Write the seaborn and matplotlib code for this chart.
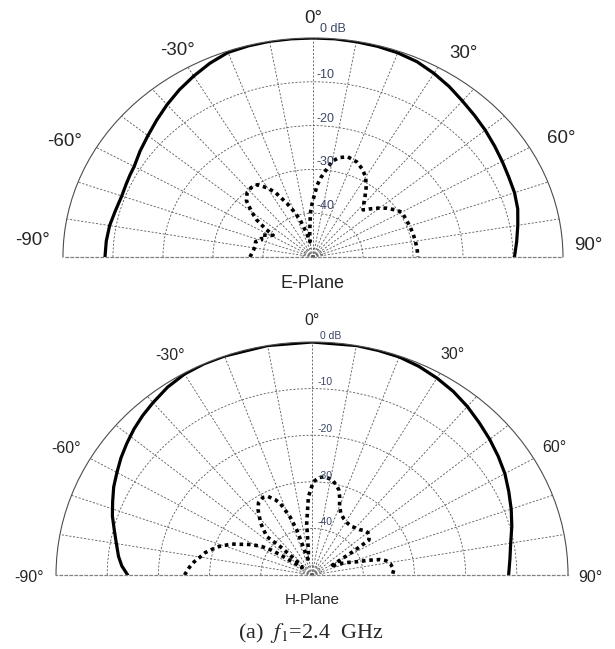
import numpy as np
import pandas as pd
import seaborn as sns
import matplotlib
matplotlib.use("Agg")
import matplotlib.pyplot as plt

# E-plane, co-pol (solid) : angle in degrees, level in dB
e_co_deg = [-90, -85, -80, -75, -70, -66, -63, -60, -55, -50, -45, -40, -35, -30, -25,
            -20, -15, -10, -5, 0, 5, 10, 15, 20, 25, 30, 35, 40, 45, 50, 55, 60, 65,
            70, 75, 80, 85, 90]
e_co_db = [-8.4, -8.5, -8.7, -9.1, -9.3, -9.1, -8.9, -8.7, -7.8, -6.9, -5.8, -4.6, -3.4,
           -2.3, -1.2, -0.3, -0.1, 0.0, 0.0, 0.0, 0.0, -0.1, -0.2, -0.4, -0.8, -1.6,
           -2.5, -3.5, -4.3, -5.0, -5.7, -6.3, -6.8, -7.1, -7.6, -8.4, -9.1, -9.7]

# E-plane, cross-pol (dotted)
e_x_deg = [-90, -84, -78, -73, -69, -64, -60, -58, -56, -53, -50, -46, -42, -38, -34,
           -30, -27, -23, -20, -17, -13, -10, -7.5, -5, -3, -1, 1, 3, 5, 7, 10, 13, 17,
           22, 26, 30, 34, 37, 40, 43, 46, 50, 53, 57, 60, 65, 70, 75, 80, 85, 90]
e_x_db = [-37.4, -37.9, -38.2, -38.0, -39.0, -38.5, -40.2, -40.6, -38.6, -35.9, -34.0,
          -31.5, -30.3, -29.9, -30.1, -31.8, -33.5, -36.7, -39.0, -41.0, -44.5, -46.5,
          -45.0, -43.0, -40.0, -38.0, -36.0, -33.5, -31.8, -30.4, -27.8, -26.7, -26.1,
          -26.6, -27.6, -28.9, -31.0, -32.7, -34.2, -35.3, -34.2, -32.6, -31.5, -30.3,
          -29.5, -29.5, -29.4, -29.3, -29.2, -29.1, -29.0]

# H-plane, co-pol (solid)
h_co_deg = [-90, -87, -84, -80, -76, -72, -68, -64, -60, -56, -52, -48, -44, -40, -35,
            -30, -25, -20, -10, 0, 10, 15, 20, 25, 30, 35, 40, 45, 50, 55, 60, 65, 70,
            75, 80, 85, 90]
h_co_db = [-14.0, -12.8, -12.0, -11.2, -10.2, -9.0, -8.0, -6.9, -6.0, -5.0, -4.1, -3.2,
           -2.4, -1.7, -0.8, -0.2, 0.0, 0.0, 0.0, 0.0, 0.0, -0.1, -0.2, -0.6, -1.2,
           -1.9, -2.8, -3.8, -4.7, -5.6, -6.5, -7.6, -8.6, -9.6, -10.6, -11.2, -11.6]

# H-plane, cross-pol (dotted)
h_x_deg = [-90, -86, -83, -80, -77, -74, -71, -67, -65, -61, -58, -56, -55, -54, -50,
           -45, -45.5, -47, -42, -37, -34, -30, -27, -24, -22, -19, -17, -16, -13, -10,
           -7.6, -5.4, -2.4, 0.7, 4, 7, 11, 14, 16, 18, 20, 23, 27, 32, 37, 41, 44, 47,
           50, 53, 56, 57, 58, 60, 63, 66, 69, 72, 74, 76, 78, 81, 86, 90]
h_x_db = [-25.1, -26.0, -26.8, -27.8, -28.6, -29.8, -31.0, -33.0, -34.4, -36.5, -38.5,
          -40.5, -42.5, -45.0, -47.5, -45.6, -41.3, -37.9, -35.0, -32.5, -31.3, -30.8,
          -31.1, -32.3, -33.4, -36.8, -40.0, -43.6, -46.5, -46.0, -44.6, -38.9, -33.2,
          -30.0, -29.0, -28.8, -29.2, -30.2, -31.0, -32.5, -34.3, -35.6, -36.4, -36.9,
          -37.0, -36.7, -36.5, -36.0, -35.8, -36.0, -36.6, -38.8, -41.0, -44.0, -46.0,
          -44.0, -42.5, -40.8, -38.5, -36.3, -35.2, -34.5, -34.0, -34.3]

ring_db = [-40, -30, -20, -10]
ring_labels = ['-40', '-30', '-20', '-10']
spoke_deg = np.arange(-80, 81, 10)
angle_labels = ['0°', '-30°', '30°', '-60°', '60°', '-90°', '90°']

sns.set_style("white")
plt.rcParams['font.family'] = ['Liberation Sans', 'DejaVu Sans']
plt.rcParams['mathtext.fontset'] = 'stix'

fig = plt.figure(figsize=(6.15, 6.49), dpi=100)
ax_e = fig.add_axes([0.1024, 0.4353, 0.813, 0.6749], projection='polar')
ax_h = fig.add_axes([0.0911, -0.0655, 0.8325, 0.718], projection='polar')


def put(ax, nx, ny, s, **kw):
    # (nx, ny) are offsets in units of the outer radius, measured from the centre
    ax.text(0.5 + 0.5 * nx, 0.25 + 0.5 * ny, s, transform=ax.transAxes,
            clip_on=False, **kw)


def draw(ax, co_deg, co_db, x_deg, x_db):
    co = pd.DataFrame({'theta': np.deg2rad(co_deg), 'db': co_db})
    xp = pd.DataFrame({'theta': np.deg2rad(x_deg), 'db': x_db})
    sns.lineplot(data=co, x='theta', y='db', ax=ax, color='black', lw=2.3,
                 sort=False, estimator=None)
    sns.lineplot(data=xp, x='theta', y='db', ax=ax, color='black', lw=2.6,
                 linestyle=(0, (1, 1.05)), sort=False, estimator=None)
    ax.set_xlabel('')
    ax.set_ylabel('')
    ax.set_theta_zero_location('N')
    ax.set_theta_direction(-1)
    ax.set_thetamin(-90)
    ax.set_thetamax(90)
    ax.set_rlim(-50, 0)
    ax.set_aspect('auto')
    ax.set_xticks(np.deg2rad(spoke_deg))
    ax.set_xticklabels([])
    ax.set_yticks([-48] + ring_db)
    ax.set_yticklabels([])
    ax.tick_params(length=0)
    ax.grid(True, color='0.35', lw=0.6, linestyle=(0, (2.5, 2)))
    ax.spines['polar'].set(lw=0.8, color='0.3')
    for s in ('start', 'end'):
        ax.spines[s].set(lw=0.9, color='0.5', linestyle=(0, (2, 2)))
    ax.spines['inner'].set_visible(False)


draw(ax_e, e_co_deg, e_co_db, e_x_deg, e_x_db)
draw(ax_h, h_co_deg, h_co_db, h_x_deg, h_x_db)

lab_col = '#3b4766'
# ring labels
put(ax_e, 0.028, 1.041, '0 dB', fontsize=9, color=lab_col, ha='left', va='center')
for db, lab in zip(ring_db, ring_labels):
    put(ax_e, 0.015, (db + 50) / 50 + 0.032, lab, fontsize=9, color=lab_col,
        ha='left', va='center')
put(ax_h, 0.031, 1.027, '0 dB', fontsize=7.5, color=lab_col, ha='left', va='center')
for db, lab in zip(ring_db, ring_labels):
    put(ax_h, 0.02, (db + 50) / 50 + 0.027, lab, fontsize=7.5, color=lab_col,
        ha='left', va='center')

# angle labels
e_pos = [(0, 1.09), (-0.543, 0.945), (0.602, 0.927), (-0.992, 0.526), (0.992, 0.539),
         (-1.122, 0.074), (1.10, 0.052)]
h_pos = [(0, 1.093), (-0.553, 0.943), (0.551, 0.946), (-0.959, 0.545), (0.945, 0.549),
         (-1.107, -0.009), (1.086, -0.009)]
for (nx, ny), lab in zip(e_pos, angle_labels):
    put(ax_e, nx, ny, lab, fontsize=13.5, ha='center', va='center')
for (nx, ny), lab in zip(h_pos, angle_labels):
    put(ax_h, nx, ny, lab, fontsize=11.5, ha='center', va='center')

put(ax_e, 0, -0.123, 'E-Plane', fontsize=13, ha='center', va='center')
put(ax_h, 0, -0.106, 'H-Plane', fontsize=11, ha='center', va='center')

fig.text(0.505, 0.0247, r'(a)  $f_1$=2.4  GHz', fontsize=16, ha='center', va='center',
         family='Liberation Serif')

fig.savefig('out.png', dpi=100)
